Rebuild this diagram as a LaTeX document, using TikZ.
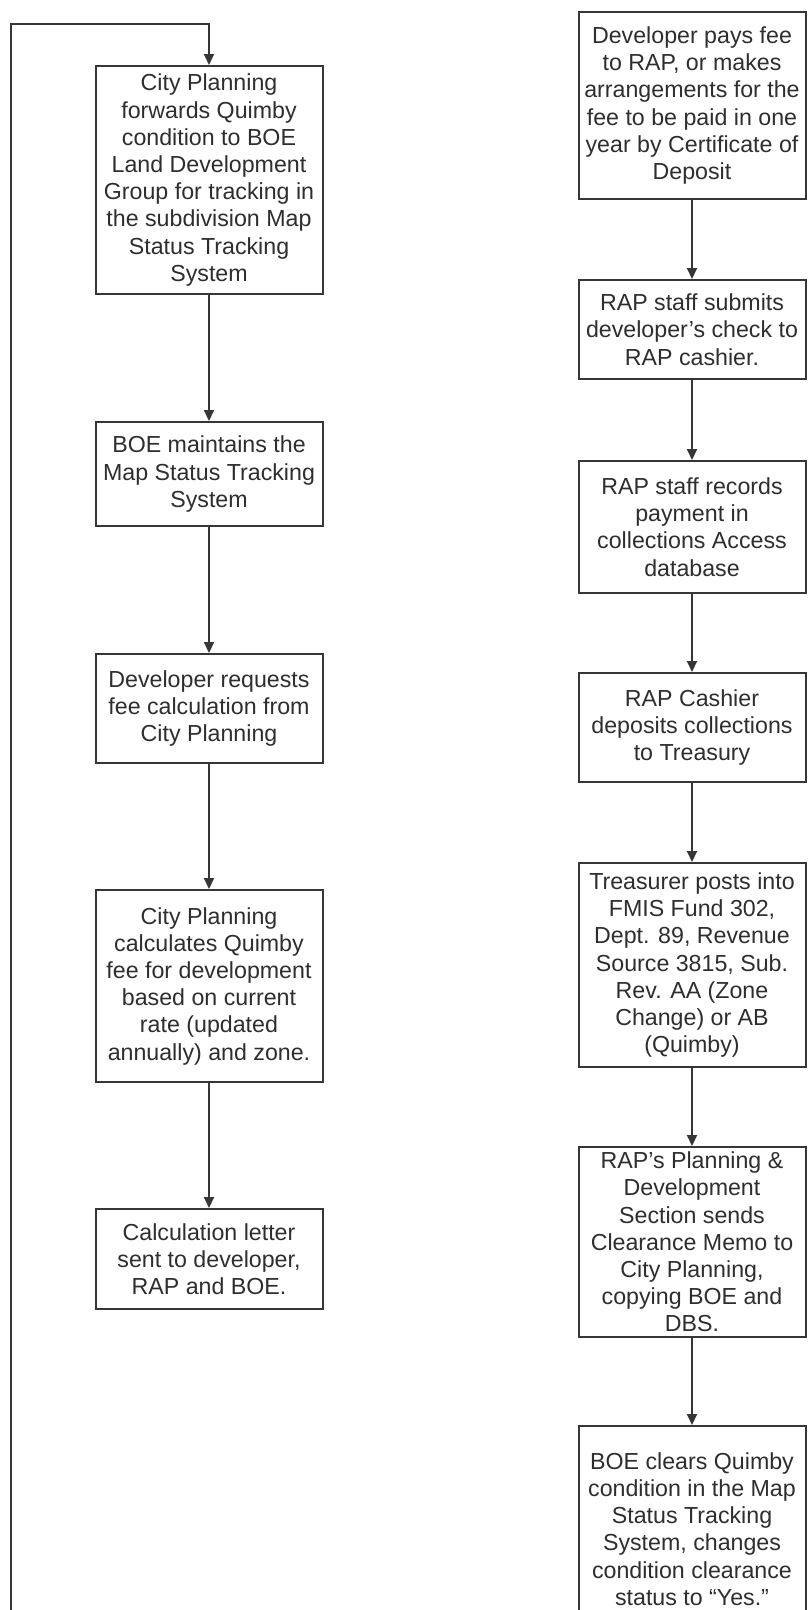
\documentclass[tikz,border=0pt]{standalone}
\usepackage{fontspec}
\setmainfont{Liberation Sans}
\usepackage{xcolor}
\usepackage{tikz}
\usetikzlibrary{arrows.meta}
\definecolor{linegray}{HTML}{363636}
\definecolor{textgray}{HTML}{2E2E2E}
\tikzstyle{stepbox} = [draw=linegray, line width=2pt, fill=white,
rectangle, minimum width=227pt, inner sep=0pt, align=center,
text=textgray, font=\fontsize{23.2}{27.2}\selectfont]
\tikzstyle{flowarrow} = [draw=linegray, line width=2pt,
-{Triangle[width=10pt,length=11pt]}]

\begin{document}
\begin{tikzpicture}[x=1pt,y=-1pt]
        \useasboundingbox (0,0) rectangle (807,1610);
        % left column
        \node [stepbox, minimum height=228pt] (forward) at (209,180) {%
            City Planning\\ forwards Quimby\\ condition to BOE\\ Land Development\\
            Group for tracking in\\ the subdivision Map\\ Status Tracking\\ System};
        \node [stepbox, minimum height=104pt] (maintain) at (209,474) {%
            BOE maintains the\\ Map Status Tracking\\ System};
        \node [stepbox, minimum height=109pt] (request) at (209,708.5) {%
            Developer requests\\ fee calculation from\\ City Planning};
        \node [stepbox, minimum height=192pt] (calculate) at (209,986) {%
            City Planning\\ calculates Quimby\\ fee for development\\ based on current\\
            rate (updated\\ annually) and zone.};
        \node [stepbox, minimum height=100pt] (letter) at (209,1259) {%
            Calculation letter\\ sent to developer,\\ RAP and BOE.};
        % right column
        \node [stepbox, minimum height=187pt] (pays) at (692,105.5) {%
            Developer pays fee\\ to RAP, or makes\\ arrangements for the\\
            fee to be paid in one\\ year by Certificate of\\ Deposit};
        \node [stepbox, minimum height=99pt] (submit) at (692,329.5) {%
            RAP staff submits\\ developer’s check to\\ RAP cashier.};
        \node [stepbox, minimum height=132pt] (record) at (692,527) {%
            RAP staff records\\ payment in\\ collections Access\\ database};
        \node [stepbox, minimum height=109pt] (deposit) at (692,727.5) {%
            RAP Cashier\\ deposits collections\\ to Treasury};
        \node [stepbox, minimum height=204pt] (posts) at (692,965) {%
            Treasurer posts into\\ FMIS Fund 302,\\ Dept. 89, Revenue\\
            Source 3815, Sub.\\ Rev. AA (Zone\\ Change) or AB\\ (Quimby)};
        \node [stepbox, minimum height=190pt] (memo) at (692,1242) {%
            RAP’s Planning \&\\ Development\\ Section sends\\ Clearance Memo to\\
            City Planning,\\ copying BOE and\\ DBS.};
        \node [stepbox, minimum height=206pt] (clears) at (692,1529) {%
            BOE clears Quimby\\ condition in the Map\\ Status Tracking\\
            System, changes\\ condition clearance\\ status to “Yes.”};
        % connectors
        \draw [flowarrow] (forward) -- (maintain);
        \draw [flowarrow] (maintain) -- (request);
        \draw [flowarrow] (request) -- (calculate);
        \draw [flowarrow] (calculate) -- (letter);
        \draw [flowarrow] (pays) -- (submit);
        \draw [flowarrow] (submit) -- (record);
        \draw [flowarrow] (record) -- (deposit);
        \draw [flowarrow] (deposit) -- (posts);
        \draw [flowarrow] (posts) -- (memo);
        \draw [flowarrow] (memo) -- (clears);
        % loop back along the left edge
        \coordinate (loopfoot) at (11,1615);
        \coordinate (loopcorner) at (11,24);
        \draw [flowarrow] (loopfoot) -- (loopcorner) -| (forward.north);
    \end{tikzpicture}
\end{document}
